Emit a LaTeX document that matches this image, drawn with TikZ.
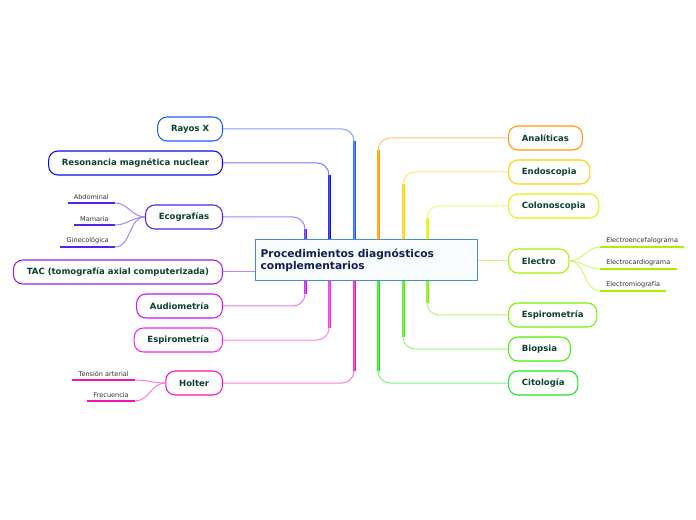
\documentclass[tikz,border=0pt]{standalone}
\usepackage{fontspec}
\setmainfont{DejaVu Sans}
\usepackage{tikz}
\usetikzlibrary{calc}
\definecolor{RootFill}{RGB}{248,252,255}
\definecolor{RootLine}{RGB}{70,140,210}
\definecolor{RootText}{RGB}{16,32,80}
\definecolor{MainText}{RGB}{12,64,48}
\definecolor{SubText} {RGB}{50,50,50}
\definecolor{cRX}{RGB}{30,90,255}
\definecolor{cRM}{RGB}{10,10,230}
\definecolor{cEC}{RGB}{85,35,235}
\definecolor{cTA}{RGB}{150,30,240}
\definecolor{cAU}{RGB}{200,20,240}
\definecolor{cES}{RGB}{240,40,230}
\definecolor{cHO}{RGB}{240,20,180}
\definecolor{cAN}{RGB}{255,153,0}
\definecolor{cEN}{RGB}{255,210,0}
\definecolor{cCO}{RGB}{230,240,0}
\definecolor{cEL}{RGB}{170,240,0}
\definecolor{cEP}{RGB}{120,240,0}
\definecolor{cBI}{RGB}{70,240,0}
\definecolor{cCI}{RGB}{30,230,30}
\tikzset{
  nd_root/.style={rectangle,draw=RootLine,fill=RootFill,line width=0.75pt,minimum width=166.5pt,minimum height=30.75pt,text width=158pt,align=left,font=\fontsize{8}{9.5}\selectfont\bfseries,text=RootText},
  nd_main/.style={rectangle,rounded corners=7pt,draw=#1,fill=white,line width=0.8pt,minimum height=18pt,inner xsep=10pt,font=\fontsize{6.4}{7.5}\selectfont\bfseries,text=MainText},
  nd_sub/.style={rectangle,inner xsep=4.5pt,inner ysep=2.5pt,font=\fontsize{4.9}{6}\selectfont,text=SubText},
  br_stem/.style={draw=#1,line width=2.25pt,shorten >=9pt},
  br_twig/.style={draw=#1!55,line width=0.75pt,rounded corners=9pt},
  br_line/.style={draw=#1,line width=1.5pt},
}

\begin{document}
\begin{tikzpicture}[x=0.75pt,y=-0.75pt]
\useasboundingbox (0,0) rectangle (696,520);
\node[nd_root] at (366,260.5)(C){Procedimientos diagnósticos\\complementarios};
% left side
\node[nd_main=cRX,anchor=east] at (223,129)(RX){Rayos X};
\node[nd_main=cRM,anchor=east] at (223,163)(RM){Resonancia magnética nuclear};
\node[nd_main=cEC,anchor=east] at (223,217)(EC){Ecografías};
\node[nd_main=cTA,anchor=east] at (223,272)(TA){TAC (tomografía axial computerizada)};
\node[nd_main=cAU,anchor=east] at (223,306)(AU){Audiometría};
\node[nd_main=cES,anchor=east] at (223,340)(ES){Espirometría};
\node[nd_main=cHO,anchor=east] at (223,383)(HO){Holter};
% right side
\node[nd_main=cAN,anchor=west] at (508,138)(AN){Analíticas};
\node[nd_main=cEN,anchor=west] at (508,172)(EN){Endoscopia};
\node[nd_main=cCO,anchor=west] at (508,206)(CO){Colonoscopia};
\node[nd_main=cEL,anchor=west] at (508,261)(EL){Electro};
\node[nd_main=cEP,anchor=west] at (508,315)(EP){Espirometría};
\node[nd_main=cBI,anchor=west] at (508,349)(BI){Biopsia};
\node[nd_main=cCI,anchor=west] at (508,383)(CI){Citología};
% sub topics
\node[nd_sub,anchor=south east] at (115,203)(AB){Abdominal};
\node[nd_sub,anchor=south east] at (115,225)(MA){Mamaria};
\node[nd_sub,anchor=south east] at (115,247)(GI){Ginecológica};
\node[nd_sub,anchor=south west] at (600,247)(EE){Electroencefalograma};
\node[nd_sub,anchor=south west] at (600,269)(EK){Electrocardiograma};
\node[nd_sub,anchor=south west] at (600,291)(EM){Electromiografía};
\node[nd_sub,anchor=south east] at (135,380)(TE){Tensión arterial};
\node[nd_sub,anchor=south east] at (135,401)(FR){Frecuencia};
% branches
\foreach \n/\dx/\a in {RX/-12/north,RM/-37/north,EC/-61/north,AU/-61/south,ES/-37/south,HO/-12/south,
                       AN/12/north,EN/37/north,CO/61/north,EP/61/south,BI/37/south,CI/12/south}{
  \coordinate (t\n) at ($(C.\a)+(\dx,0)$);
  \draw[br_stem=c\n](t\n)--(t\n |- \n);
  \draw[br_twig=c\n](t\n)|-(\n);
}
\draw[br_twig=cTA](C.west |- TA)--(TA);
\draw[br_twig=cEL](C.east |- EL)--(EL);
% sub branches
\foreach \s in {AB,MA,GI}{
  \draw[br_twig=cEC](EC.west) to[out=180,in=0] (\s.south east);
  \draw[br_line=cEC](\s.south west)--(\s.south east);
}
\foreach \s in {EE,EK,EM}{
  \draw[br_twig=cEL](EL.east) to[out=0,in=180] (\s.south west);
  \draw[br_line=cEL](\s.south west)--(\s.south east);
}
\foreach \s in {TE,FR}{
  \draw[br_twig=cHO](HO.west) to[out=180,in=0] (\s.south east);
  \draw[br_line=cHO](\s.south west)--(\s.south east);
}
\end{tikzpicture}
\end{document}
